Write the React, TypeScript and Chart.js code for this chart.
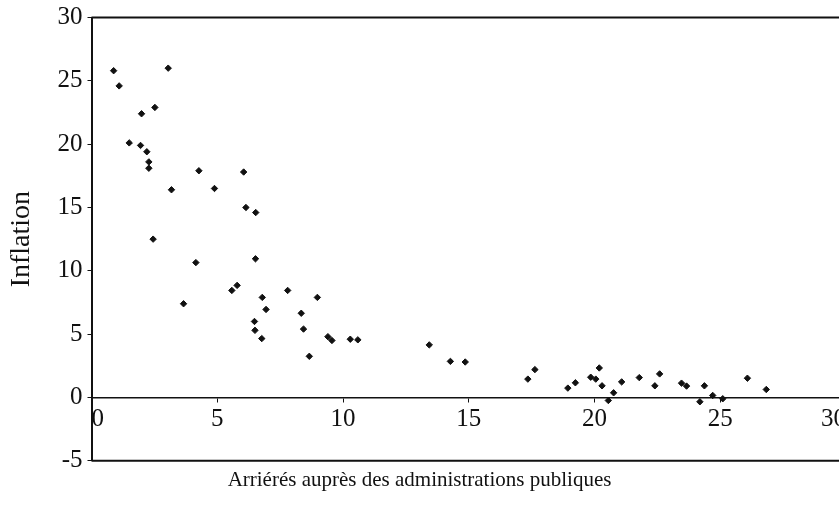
import React, { useEffect, useRef } from "react";
import { Chart, registerables } from "chart.js";

Chart.register(...registerables);

// Arriérés auprès des administrations publiques (x) vs Inflation (y)
const arrears = [
  0.88, 1.1, 3.05, 2.52, 1.99, 1.5, 1.95, 2.2, 2.28, 2.28,
  3.18, 4.27, 4.89, 6.05, 6.14, 6.53, 2.45, 4.15, 6.52, 3.66,
  5.58, 5.79, 6.79, 6.94, 6.48, 6.5, 6.77, 7.8, 8.98, 8.34,
  8.43, 8.66, 9.4, 9.56, 10.29, 10.59, 13.43, 14.27, 14.86, 17.35,
  17.63, 18.94, 19.24, 19.85, 20.05, 20.19, 20.3, 20.55, 20.76, 21.08,
  21.78, 22.4, 22.59, 23.46, 23.66, 24.19, 24.37, 24.7, 25.1, 26.08,
  26.83,
];
const inflation = [
  25.8, 24.6, 26.0, 22.9, 22.4, 20.1, 19.9, 19.4, 18.6, 18.1,
  16.4, 17.9, 16.5, 17.8, 15.0, 14.6, 12.5, 10.65, 10.95, 7.4,
  8.45, 8.85, 7.9, 6.95, 6.0, 5.3, 4.65, 8.45, 7.9, 6.65,
  5.4, 3.25, 4.8, 4.5, 4.6, 4.55, 4.15, 2.85, 2.8, 1.45,
  2.2, 0.74, 1.16, 1.6, 1.45, 2.33, 0.92, -0.24, 0.37, 1.23,
  1.57, 0.92, 1.86, 1.13, 0.9, -0.34, 0.92, 0.16, -0.1, 1.52,
  0.63,
];

const xTicks = [0, 5, 10, 15, 20, 25, 30];
const yTicks = [-5, 0, 5, 10, 15, 20, 25, 30];
const xTitle = "Arriérés auprès des administrations publiques";
const yTitle = "Inflation";

const SERIF = "'Liberation Serif', 'Times New Roman', serif";

const framePlugin = {
  id: "frame",
  beforeDatasetsDraw(chart: any) {
    const { ctx, chartArea } = chart;
    const { left, top, right, bottom } = chartArea;
    ctx.save();
    ctx.strokeStyle = "#111";
    ctx.lineWidth = 2;
    ctx.beginPath();
    ctx.moveTo(left, top);
    ctx.lineTo(right, top);
    ctx.moveTo(left, bottom);
    ctx.lineTo(right, bottom);
    ctx.stroke();
    ctx.restore();
  },
};

export default function App() {
  const canvasRef = useRef<HTMLCanvasElement | null>(null);

  useEffect(() => {
    if (!canvasRef.current) return;
    const points = arrears.map((x, i) => ({ x, y: inflation[i] }));
    const chart = new Chart(canvasRef.current, {
      type: "scatter",
      data: {
        datasets: [
          {
            data: points,
            pointStyle: "rectRot",
            pointRadius: 3.2,
            pointBackgroundColor: "#111",
            pointBorderColor: "#111",
            pointBorderWidth: 1,
            xAxisID: "x",
            yAxisID: "y",
          },
        ],
      },
      options: {
        animation: false,
        responsive: false,
        maintainAspectRatio: false,
        layout: { padding: { left: 0, right: 0, top: 15, bottom: 0 } },
        plugins: {
          legend: { display: false },
          tooltip: { enabled: false },
          title: {
            display: true,
            text: xTitle,
            position: "bottom",
            color: "#111",
            font: { family: SERIF, size: 21, weight: "normal" },
            padding: { top: 7, bottom: 22 },
          },
        },
        scales: {
          x: {
            type: "linear",
            position: { y: 0 } as any,
            min: xTicks[0],
            max: xTicks[xTicks.length - 1],
            afterBuildTicks: (axis: any) => {
              axis.ticks = xTicks.map((v) => ({ value: v }));
            },
            afterFit: (axis: any) => {
              axis.paddingLeft = 0;
              axis.paddingRight = 0;
            },
            ticks: {
              align: "inner",
              color: "#111",
              padding: 3,
              maxRotation: 0,
              font: { family: SERIF, size: 25 },
            },
            grid: {
              drawOnChartArea: false,
              drawTicks: true,
              tickLength: 4,
              color: "#111",
            },
            border: { display: true, color: "#111", width: 1.5 },
          },
          y: {
            type: "linear",
            position: "left",
            min: yTicks[0],
            max: yTicks[yTicks.length - 1],
            afterBuildTicks: (axis: any) => {
              axis.ticks = yTicks.map((v) => ({ value: v }));
            },
            afterFit: (axis: any) => {
              axis.width = 103.5;
            },
            ticks: {
              color: "#111",
              padding: 5,
              font: { family: SERIF, size: 25, lineHeight: 1 },
            },
            grid: {
              drawOnChartArea: false,
              drawTicks: true,
              tickLength: 4,
              color: "#111",
            },
            border: { display: true, color: "#111", width: 2 },
            title: {
              display: true,
              text: yTitle,
              color: "#111",
              font: { family: SERIF, size: 28 },
              padding: { top: 17, bottom: 0 },
            },
          },
        },
      },
      plugins: [framePlugin],
    });
    return () => chart.destroy();
  }, []);

  return (
    <div
      style={{
        position: "absolute",
        left: 0,
        top: 0,
        width: 839,
        height: 515,
        overflow: "hidden",
        background: "#fff",
      }}
    >
      <canvas
        ref={canvasRef}
        width={863}
        height={515}
        style={{ display: "block", position: "absolute", left: -12, top: 0 }}
      />
    </div>
  );
}
